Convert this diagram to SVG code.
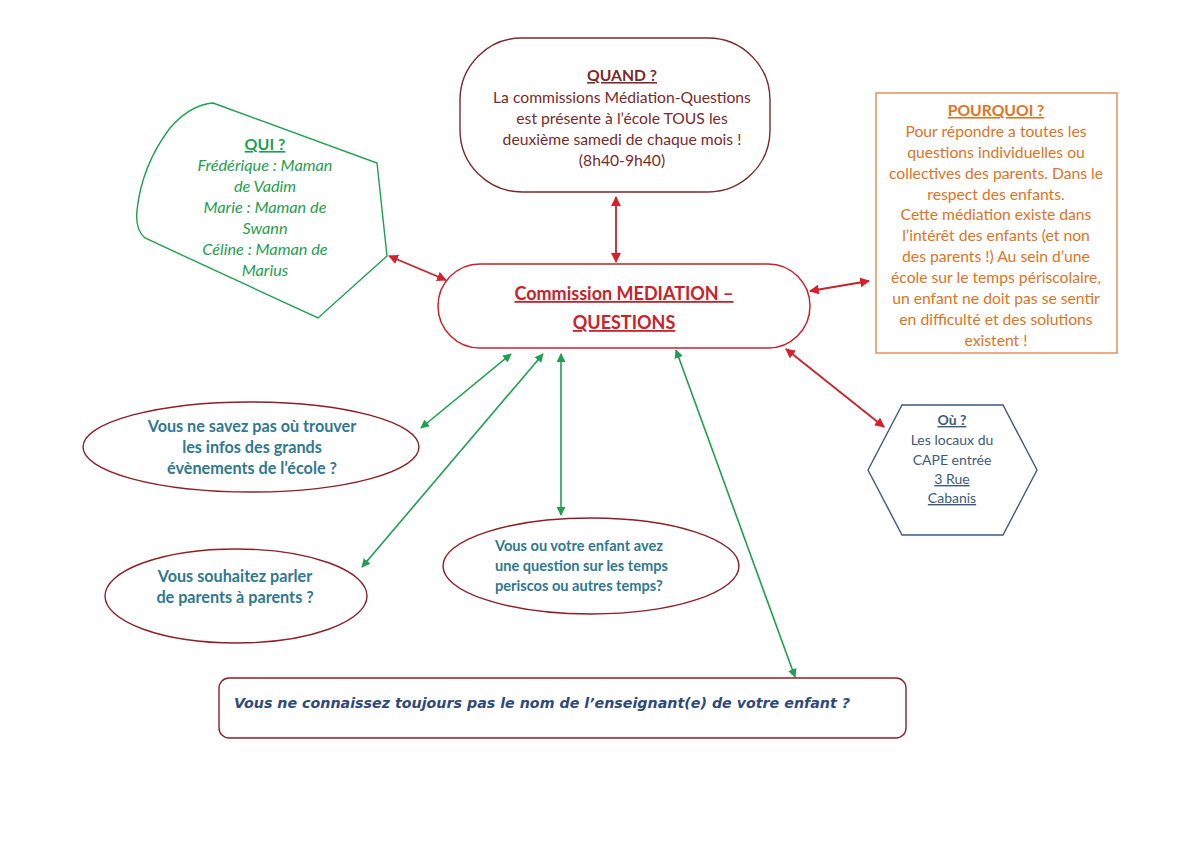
<svg xmlns="http://www.w3.org/2000/svg" width="1200" height="849" viewBox="0 0 1200 849">
<defs>
<marker id="ar" viewBox="0 0 10 10" refX="9" refY="5" markerWidth="5.5" markerHeight="5.5" orient="auto-start-reverse"><path d="M0,0 L10,5 L0,10 z" fill="#d9202a"/></marker>
<marker id="ag" viewBox="0 0 10 10" refX="9" refY="5" markerWidth="5.5" markerHeight="5.5" orient="auto-start-reverse"><path d="M0,0 L10,5 L0,10 z" fill="#1fa050"/></marker>
</defs>
<style>
text{font-family:Lato,"Open Sans","Liberation Sans",sans-serif;text-anchor:middle}
.t{font-size:15.7px}
.u{text-decoration:underline}
.red{stroke:#c8222a;stroke-width:1.8;fill:none}
.grn{stroke:#1fa050;stroke-width:1.6;fill:none}
.oval{fill:#fff;stroke:#8e1f26;stroke-width:1.4}
.q{font-size:16.2px;font-weight:bold;fill:#2e7892}
</style>
<rect width="1200" height="849" fill="#fff"/>

<g id="connectors">
<line class="red" x1="616" y1="197" x2="616" y2="262" marker-start="url(#ar)" marker-end="url(#ar)"/>
<line class="red" x1="389" y1="256" x2="446" y2="280" marker-start="url(#ar)" marker-end="url(#ar)"/>
<line class="red" x1="810" y1="291" x2="869" y2="281" marker-start="url(#ar)" marker-end="url(#ar)"/>
<line class="red" x1="786" y1="349" x2="884" y2="427" marker-start="url(#ar)" marker-end="url(#ar)"/>
<line class="grn" x1="421" y1="428" x2="511" y2="354" marker-start="url(#ag)" marker-end="url(#ag)"/>
<line class="grn" x1="362" y1="567" x2="543" y2="354" marker-start="url(#ag)" marker-end="url(#ag)"/>
<line class="grn" x1="561" y1="354" x2="561" y2="515" marker-start="url(#ag)" marker-end="url(#ag)"/>
<line class="grn" x1="676" y1="350" x2="795" y2="677" marker-start="url(#ag)" marker-end="url(#ag)"/>
</g>

<g id="qui">
<path d="M213,103 L377,163 L387,256 L318,318 L145,238 Q135,230 137,210 Q142,165 170,128 Q190,105 213,103 Z" fill="#fff" stroke="#1fa050" stroke-width="1.4"/>
<text class="u" x="265" y="150" fill="#1fa050" font-weight="bold" font-size="16">QUI ?</text>
<g fill="#1fa050" font-style="italic" font-size="16.3">
<text x="265" y="171">Frédérique : Maman</text>
<text x="265" y="192">de Vadim</text>
<text x="265" y="213">Marie : Maman de</text>
<text x="265" y="234">Swann</text>
<text x="265" y="255">Céline : Maman de</text>
<text x="265" y="276">Marius</text>
</g>
</g>

<g id="quand">
<rect x="460" y="38" width="310" height="154" rx="62" fill="#fff" stroke="#7a2a2a" stroke-width="1.4"/>
<g fill="#7a2a2a" class="t">
<text class="u" x="622" y="81" font-weight="bold">QUAND ?</text>
<text x="622" y="103">La commissions Médiation-Questions</text>
<text x="622" y="124">est présente à l’école TOUS les</text>
<text x="622" y="145">deuxième samedi de chaque mois !</text>
<text x="622" y="166">(8h40-9h40)</text>
</g>
</g>

<g id="pourquoi">
<rect x="876" y="93" width="241" height="260" fill="#fff" stroke="#e08a4a" stroke-width="1.4"/>
<g fill="#e0731f" class="t">
<text class="u" x="996" y="116" font-weight="bold">POURQUOI ?</text>
<text x="996" y="137">Pour répondre a toutes les</text>
<text x="996" y="158">questions individuelles ou</text>
<text x="996" y="179">collectives des parents. Dans le</text>
<text x="996" y="200">respect des enfants.</text>
<text x="996" y="220">Cette médiation existe dans</text>
<text x="996" y="241">l’intérêt des enfants (et non</text>
<text x="996" y="262">des parents !) Au sein d’une</text>
<text x="996" y="283">école sur le temps périscolaire,</text>
<text x="996" y="304">un enfant ne doit pas se sentir</text>
<text x="996" y="325">en difficulté et des solutions</text>
<text x="996" y="346">existent !</text>
</g>
</g>

<g id="center">
<rect x="438" y="264" width="372" height="84" rx="42" fill="#fff" stroke="#c8222a" stroke-width="1.5"/>
<g fill="#c8222a" font-weight="bold" font-size="18">
<text class="u" x="624" y="300">Commission MEDIATION –</text>
<text class="u" x="624" y="329">QUESTIONS</text>
</g>
</g>

<g id="ou">
<polygon points="868,470 902,405 1003,405 1037,470 1003,535 902,535" fill="#fff" stroke="#3d5a80" stroke-width="1.4"/>
<g fill="#3d5a80" font-size="14">
<text class="u" x="952" y="425" font-weight="bold">Où ?</text>
<text x="952" y="445">Les locaux du</text>
<text x="952" y="465">CAPE entrée</text>
<text class="u" x="952" y="484">3 Rue</text>
<text class="u" x="952" y="503">Cabanis</text>
</g>
</g>

<g id="evenements">
<ellipse class="oval" cx="251" cy="447" rx="168" ry="45"/>
<text class="q" x="252" y="432">Vous ne savez pas où trouver</text>
<text class="q" x="252" y="453">les infos des grands</text>
<text class="q" x="252" y="474">évènements de l’école ?</text>
</g>

<g id="parents">
<ellipse class="oval" cx="236" cy="596" rx="131" ry="47"/>
<text class="q" x="235" y="582">Vous souhaitez parler</text>
<text class="q" x="235" y="603">de parents à parents ?</text>
</g>

<g id="periscos">
<ellipse class="oval" cx="591" cy="566" rx="148" ry="48"/>
<g class="q">
<text x="495" y="551" style="text-anchor:start" font-size="14.6">Vous ou votre enfant avez</text>
<text x="495" y="571" style="text-anchor:start" font-size="14.6">une question sur les temps</text>
<text x="495" y="591" style="text-anchor:start" font-size="14.6">periscos ou autres temps?</text>
</g>
</g>

<g id="enseignant">
<rect x="219" y="678" width="687" height="60" rx="10" fill="#fff" stroke="#8e1f26" stroke-width="1.4"/>
<text x="234" y="708" style="text-anchor:start;font-family:'DejaVu Sans',sans-serif" font-size="14" font-weight="bold" font-style="italic" fill="#2e4a7a" textLength="616" lengthAdjust="spacingAndGlyphs">Vous ne connaissez toujours pas le nom de l’enseignant(e) de votre enfant ?</text>
</g>
</svg>
